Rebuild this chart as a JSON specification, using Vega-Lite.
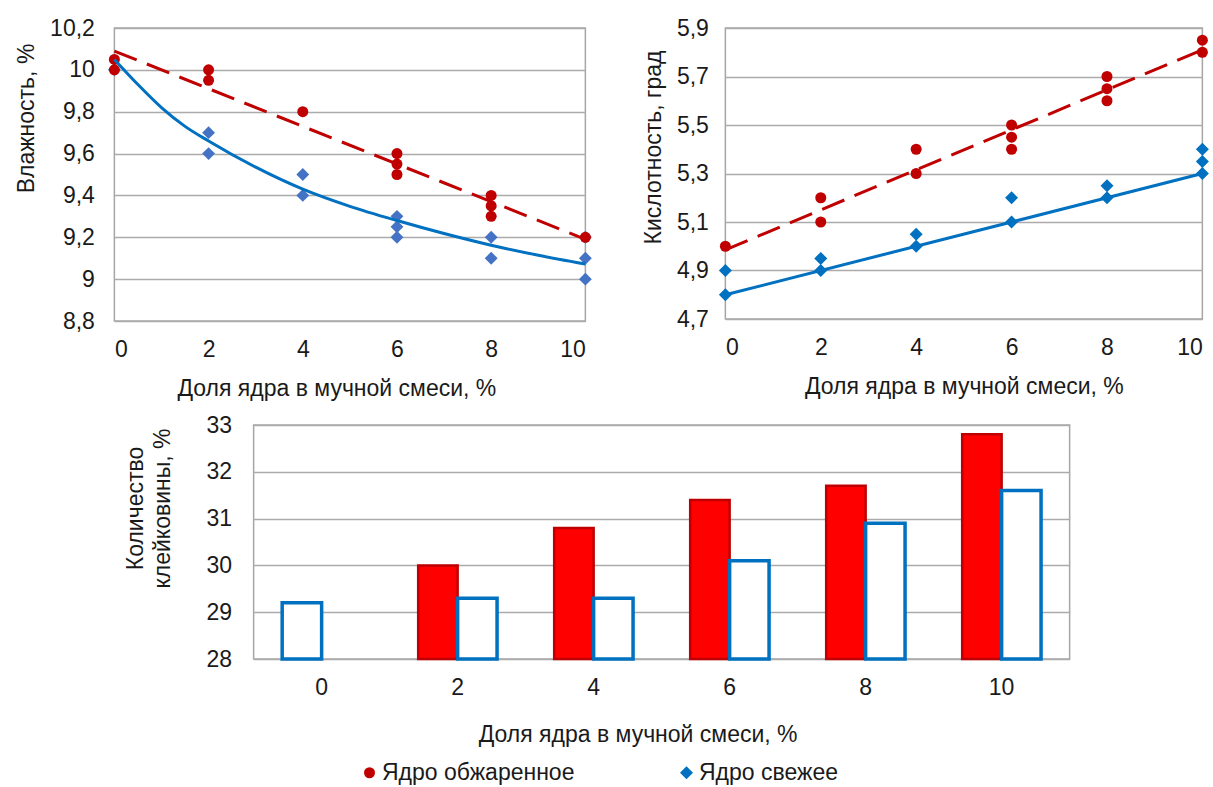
{
  "$schema": "https://vega.github.io/schema/vega-lite/v6.json",
  "background": "white",
  "padding": {"left": 14, "top": 16, "right": 0, "bottom": 0},
  "config": {
    "font": "Liberation Sans",
    "view": {"stroke": "#A6A6A6", "strokeWidth": 1.5},
    "axis": {
      "labelFontSize": 23, "labelColor": "#1a1a1a",
      "titleFontSize": 23, "titleColor": "#1a1a1a", "titleFontWeight": "normal",
      "ticks": false, "tickSize": 0, "domain": false,
      "gridColor": "#ABABAB", "gridWidth": 1.5
    }
  },
  "datasets": {
    "moisture": [
      {"dose": 0, "value": 10.0, "sample": "Ядро свежее"},
      {"dose": 2, "value": 9.7, "sample": "Ядро свежее"},
      {"dose": 2, "value": 9.6, "sample": "Ядро свежее"},
      {"dose": 4, "value": 9.5, "sample": "Ядро свежее"},
      {"dose": 4, "value": 9.4, "sample": "Ядро свежее"},
      {"dose": 6, "value": 9.3, "sample": "Ядро свежее"},
      {"dose": 6, "value": 9.25, "sample": "Ядро свежее"},
      {"dose": 6, "value": 9.2, "sample": "Ядро свежее"},
      {"dose": 8, "value": 9.2, "sample": "Ядро свежее"},
      {"dose": 8, "value": 9.1, "sample": "Ядро свежее"},
      {"dose": 10, "value": 9.2, "sample": "Ядро свежее"},
      {"dose": 10, "value": 9.1, "sample": "Ядро свежее"},
      {"dose": 10, "value": 9.0, "sample": "Ядро свежее"},
      {"dose": 0, "value": 10.05, "sample": "Ядро обжаренное"},
      {"dose": 0, "value": 10.0, "sample": "Ядро обжаренное"},
      {"dose": 2, "value": 10.0, "sample": "Ядро обжаренное"},
      {"dose": 2, "value": 9.95, "sample": "Ядро обжаренное"},
      {"dose": 4, "value": 9.8, "sample": "Ядро обжаренное"},
      {"dose": 6, "value": 9.6, "sample": "Ядро обжаренное"},
      {"dose": 6, "value": 9.55, "sample": "Ядро обжаренное"},
      {"dose": 6, "value": 9.5, "sample": "Ядро обжаренное"},
      {"dose": 8, "value": 9.4, "sample": "Ядро обжаренное"},
      {"dose": 8, "value": 9.35, "sample": "Ядро обжаренное"},
      {"dose": 8, "value": 9.3, "sample": "Ядро обжаренное"},
      {"dose": 10, "value": 9.2, "sample": "Ядро обжаренное"}
    ],
    "moistureTrend": [
      {"dose": 0, "value": 10.05, "sample": "Ядро свежее"},
      {"dose": 0.5, "value": 9.93, "sample": "Ядро свежее"},
      {"dose": 1, "value": 9.82, "sample": "Ядро свежее"},
      {"dose": 1.5, "value": 9.73, "sample": "Ядро свежее"},
      {"dose": 2, "value": 9.66, "sample": "Ядро свежее"},
      {"dose": 3, "value": 9.535, "sample": "Ядро свежее"},
      {"dose": 4, "value": 9.43, "sample": "Ядро свежее"},
      {"dose": 5, "value": 9.348, "sample": "Ядро свежее"},
      {"dose": 6, "value": 9.28, "sample": "Ядро свежее"},
      {"dose": 7, "value": 9.218, "sample": "Ядро свежее"},
      {"dose": 8, "value": 9.162, "sample": "Ядро свежее"},
      {"dose": 9, "value": 9.114, "sample": "Ядро свежее"},
      {"dose": 10, "value": 9.072, "sample": "Ядро свежее"},
      {"dose": 0, "value": 10.09, "sample": "Ядро обжаренное"},
      {"dose": 10, "value": 9.19, "sample": "Ядро обжаренное"}
    ],
    "acidity": [
      {"dose": 0, "value": 4.9, "sample": "Ядро свежее"},
      {"dose": 0, "value": 4.8, "sample": "Ядро свежее"},
      {"dose": 2, "value": 4.95, "sample": "Ядро свежее"},
      {"dose": 2, "value": 4.9, "sample": "Ядро свежее"},
      {"dose": 4, "value": 5.05, "sample": "Ядро свежее"},
      {"dose": 4, "value": 5.0, "sample": "Ядро свежее"},
      {"dose": 6, "value": 5.2, "sample": "Ядро свежее"},
      {"dose": 6, "value": 5.1, "sample": "Ядро свежее"},
      {"dose": 8, "value": 5.25, "sample": "Ядро свежее"},
      {"dose": 8, "value": 5.2, "sample": "Ядро свежее"},
      {"dose": 10, "value": 5.4, "sample": "Ядро свежее"},
      {"dose": 10, "value": 5.35, "sample": "Ядро свежее"},
      {"dose": 10, "value": 5.3, "sample": "Ядро свежее"},
      {"dose": 0, "value": 5.0, "sample": "Ядро обжаренное"},
      {"dose": 2, "value": 5.2, "sample": "Ядро обжаренное"},
      {"dose": 2, "value": 5.1, "sample": "Ядро обжаренное"},
      {"dose": 4, "value": 5.4, "sample": "Ядро обжаренное"},
      {"dose": 4, "value": 5.3, "sample": "Ядро обжаренное"},
      {"dose": 6, "value": 5.5, "sample": "Ядро обжаренное"},
      {"dose": 6, "value": 5.45, "sample": "Ядро обжаренное"},
      {"dose": 6, "value": 5.4, "sample": "Ядро обжаренное"},
      {"dose": 8, "value": 5.7, "sample": "Ядро обжаренное"},
      {"dose": 8, "value": 5.65, "sample": "Ядро обжаренное"},
      {"dose": 8, "value": 5.6, "sample": "Ядро обжаренное"},
      {"dose": 10, "value": 5.85, "sample": "Ядро обжаренное"},
      {"dose": 10, "value": 5.8, "sample": "Ядро обжаренное"}
    ],
    "acidityTrend": [
      {"dose": 0, "value": 4.8, "sample": "Ядро свежее"},
      {"dose": 10, "value": 5.3, "sample": "Ядро свежее"},
      {"dose": 0, "value": 4.985, "sample": "Ядро обжаренное"},
      {"dose": 10, "value": 5.81, "sample": "Ядро обжаренное"}
    ],
    "gluten": [
      {"dose": 0, "series": "Ядро обжаренное", "value": 29.2},
      {"dose": 2, "series": "Ядро обжаренное", "value": 30.0},
      {"dose": 4, "series": "Ядро обжаренное", "value": 30.8},
      {"dose": 6, "series": "Ядро обжаренное", "value": 31.4},
      {"dose": 8, "series": "Ядро обжаренное", "value": 31.7},
      {"dose": 10, "series": "Ядро обжаренное", "value": 32.8},
      {"dose": 2, "series": "Ядро свежее", "value": 29.3},
      {"dose": 4, "series": "Ядро свежее", "value": 29.3},
      {"dose": 6, "series": "Ядро свежее", "value": 30.1},
      {"dose": 8, "series": "Ядро свежее", "value": 30.9},
      {"dose": 10, "series": "Ядро свежее", "value": 31.6}
    ]
  },
  "spacing": 12,
  "center": true,
  "vconcat": [
    {
      "spacing": 48,
      "hconcat": [
        {
          "width": 471,
          "height": 293,
          "encoding": {
            "x": {"field": "dose", "type": "quantitative",
              "scale": {"domain": [0, 10], "nice": false},
              "axis": {"values": [0, 2, 4, 6, 8, 10], "grid": false, "labelPadding": 17,
                "title": "Доля ядра в мучной смеси, %", "titlePadding": 16, "titleX": 222}},
            "y": {"field": "value", "type": "quantitative",
              "scale": {"domain": [8.8, 10.2], "nice": false, "zero": false},
              "axis": {"values": [8.8, 9, 9.2, 9.4, 9.6, 9.8, 10, 10.2],
                "labelExpr": "replace(format(datum.value, '.1~f'), '.', ',')",
                "labelPadding": 20, "title": "Влажность, %", "titlePadding": 11, "titleY": 90}}
          },
          "layer": [
            {"data": {"name": "moisture"}, "transform": [{"filter": "datum.sample == 'Ядро свежее'"}],
              "mark": {"type": "point", "shape": "diamond", "filled": true, "color": "#4472C4", "opacity": 1, "size": 165}},
            {"data": {"name": "moisture"}, "transform": [{"filter": "datum.sample == 'Ядро обжаренное'"}],
              "mark": {"type": "point", "shape": "circle", "filled": true, "color": "#C00000", "opacity": 1, "size": 121}},
            {"data": {"name": "moistureTrend"}, "transform": [{"filter": "datum.sample == 'Ядро свежее'"}],
              "mark": {"type": "line", "color": "#0070C0", "strokeWidth": 3, "interpolate": "monotone"}},
            {"data": {"name": "moistureTrend"}, "transform": [{"filter": "datum.sample == 'Ядро обжаренное'"}],
              "mark": {"type": "line", "color": "#C00000", "strokeWidth": 3, "strokeDash": [24, 11]}},
            {"data": {"values": [{"label": "y = -0,1829x + 10,273\nR² = 0,95"}]},
              "mark": {"type": "text", "lineBreak": "\n", "align": "center", "baseline": "alphabetic", "fontSize": 23, "lineHeight": 28, "color": "#1a1a1a"},
              "encoding": {"x": {"datum": 6.94}, "y": {"datum": 9.832}, "text": {"field": "label"}}},
            {"data": {"values": [{"label": "y = 10,054x-0,059\nR² = 0,91"}]},
              "mark": {"type": "text", "lineBreak": "\n", "align": "center", "baseline": "alphabetic", "fontSize": 23, "lineHeight": 28, "color": "#1a1a1a"},
              "encoding": {"x": {"datum": 2.23}, "y": {"datum": 9.244}, "text": {"field": "label"}}}
          ]
        },
        {
          "width": 477,
          "height": 291,
          "encoding": {
            "x": {"field": "dose", "type": "quantitative",
              "scale": {"domain": [0, 10], "nice": false},
              "axis": {"values": [0, 2, 4, 6, 8, 10], "grid": false, "labelPadding": 17,
                "title": "Доля ядра в мучной смеси, %", "titlePadding": 16}},
            "y": {"field": "value", "type": "quantitative",
              "scale": {"domain": [4.7, 5.9], "nice": false, "zero": false},
              "axis": {"values": [4.7, 4.9, 5.1, 5.3, 5.5, 5.7, 5.9],
                "labelExpr": "replace(format(datum.value, '.1~f'), '.', ',')",
                "labelPadding": 17, "title": "Кислотность, град", "titlePadding": 11, "titleY": 119}}
          },
          "layer": [
            {"data": {"name": "acidity"},
              "mark": {"type": "point", "filled": true, "opacity": 1},
              "encoding": {
                "color": {"field": "sample", "type": "nominal",
                  "scale": {"domain": ["Ядро обжаренное", "Ядро свежее"], "range": ["#C00000", "#0070C0"]},
                  "legend": {"orient": "none", "legendX": 244, "legendY": 733, "direction": "horizontal",
                    "title": null, "labelFontSize": 23, "labelColor": "#1a1a1a", "labelLimit": 0, "symbolSize": 150,
                    "columnPadding": 100, "labelOffset": 1, "symbolOpacity": 1}},
                "shape": {"field": "sample", "type": "nominal",
                  "scale": {"domain": ["Ядро обжаренное", "Ядро свежее"], "range": ["circle", "diamond"]}},
                "size": {"field": "sample", "type": "nominal",
                  "scale": {"domain": ["Ядро обжаренное", "Ядро свежее"], "range": [121, 169]}, "legend": null}
              }},
            {"data": {"name": "acidityTrend"}, "transform": [{"filter": "datum.sample == 'Ядро свежее'"}],
              "mark": {"type": "line", "color": "#0070C0", "strokeWidth": 3}},
            {"data": {"name": "acidityTrend"}, "transform": [{"filter": "datum.sample == 'Ядро обжаренное'"}],
              "mark": {"type": "line", "color": "#C00000", "strokeWidth": 3, "strokeDash": [24, 11]}},
            {"data": {"values": [{"label": "y = 0,1657x + 4,82\nR² = 0,96"}]},
              "mark": {"type": "text", "lineBreak": "\n", "align": "center", "baseline": "alphabetic", "fontSize": 23, "lineHeight": 27, "color": "#1a1a1a"},
              "encoding": {"x": {"datum": 2.52}, "y": {"datum": 5.519}, "text": {"field": "label"}}},
            {"data": {"values": [{"label": "y = 0,0829x + 4,7933\nR² = 0,93"}]},
              "mark": {"type": "text", "lineBreak": "\n", "align": "center", "baseline": "alphabetic", "fontSize": 23, "lineHeight": 27, "color": "#1a1a1a"},
              "encoding": {"x": {"datum": 7.34}, "y": {"datum": 4.932}, "text": {"field": "label"}}}
          ]
        }
      ]
    },
    {
      "width": 816,
      "height": 234,
      "data": {"name": "gluten"},
      "encoding": {
        "x": {"field": "dose", "type": "ordinal",
          "scale": {"paddingInner": 0.42, "paddingOuter": 0.21},
          "axis": {"labelAngle": 0, "labelPadding": 17, "grid": false,
            "title": "Доля ядра в мучной смеси, %", "titlePadding": 24, "titleX": 384}},
        "xOffset": {"field": "series", "type": "nominal",
          "scale": {"domain": ["Ядро обжаренное", "Ядро свежее"], "paddingInner": 0, "paddingOuter": 0}},
        "y": {"field": "value", "type": "quantitative",
          "scale": {"domain": [28, 33], "nice": false, "zero": false},
          "axis": {"values": [28, 29, 30, 31, 32, 33], "labelPadding": 22,
            "title": ["Количество", "клейковины, %"], "titleLineHeight": 27, "titlePadding": 32, "titleY": 83}},
        "y2": {"datum": 28}
      },
      "layer": [
        {"transform": [{"filter": "datum.series == 'Ядро обжаренное' && datum.dose > 0"}],
          "mark": {"type": "bar", "fill": "#FF0000", "stroke": "#C00000", "strokeWidth": 2.5}},
        {"transform": [{"filter": "datum.series == 'Ядро свежее' || datum.dose == 0"}],
          "mark": {"type": "bar", "fill": "#FFFFFF", "stroke": "#0070C0", "strokeWidth": 3.5}}
      ]
    }
  ]
}
